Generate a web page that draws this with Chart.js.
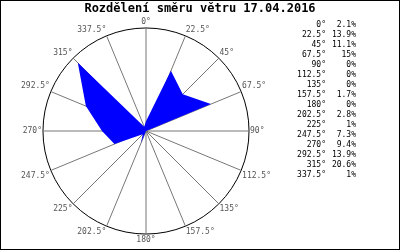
<!DOCTYPE html>
<html>
<head>
<meta charset="utf-8">
<script src="https://cdn.jsdelivr.net/npm/chart.js@4/dist/chart.umd.min.js"></script>
<style>
  html, body { margin: 0; padding: 0; background: #fff; }
  #wrap { width: 400px; height: 250px; position: relative; }
</style>
</head>
<body>
<div id="wrap"><canvas id="windChart" width="400" height="250"></canvas></div>
<script>
const directions = ["0°", "22.5°", "45°", "67.5°", "90°", "112.5°", "135°", "157.5°",
  "180°", "202.5°", "225°", "247.5°", "270°", "292.5°", "315°", "337.5°"];
const shares = [2.1, 13.9, 11.1, 15, 0, 0, 0, 1.7, 0, 2.8, 1, 7.3, 9.4, 13.9, 20.6, 1];
const shareLabels = ["2.1%", "13.9%", "11.1%", "15%", "0%", "0%", "0%", "1.7%",
  "0%", "2.8%", "1%", "7.3%", "9.4%", "13.9%", "20.6%", "1%"];
const titleText = "Rozdělení směru větru 17.04.2016";

// nadpis, seznam hodnot vpravo + rámeček
const sideList = {
  id: "sideList",
  afterDraw(chart) {
    const c = chart.ctx;
    c.save();
    c.fillStyle = "#000";
    c.textBaseline = "middle";
    c.textAlign = "center";
    c.font = "bold 12px 'DejaVu Sans Mono'";
    c.fillText(titleText, 200, 9);
    c.font = "8px 'DejaVu Sans Mono'";
    directions.forEach((d, i) => {
      const y = 25 + i * 10;
      c.textAlign = "right";
      c.fillText(d, 326, y);
      c.fillText(shareLabels[i], 356, y);
    });
    c.strokeStyle = "#000";
    c.lineWidth = 1;
    c.strokeRect(0.5, 0.5, 399, 249);
    c.restore();
  }
};

const ctx = document.getElementById("windChart").getContext("2d");
new Chart(ctx, {
  type: "radar",
  data: {
    labels: directions,
    datasets: [{
      data: shares,
      backgroundColor: "#0000ff",
      borderWidth: 0,
      pointRadius: 0,
      fill: true
    }]
  },
  options: {
    animation: false,
    responsive: false,
    layout: { padding: { left: 21, right: 128, top: 17, bottom: 3 } },
    plugins: {
      legend: { display: false },
      tooltip: { enabled: false },
      title: { display: false }
    },
    scales: {
      r: {
        min: 0,
        max: 22,
        ticks: { display: false, stepSize: 22 },
        grid: { color: "#000", lineWidth: 1, circular: true },
        angleLines: { color: "#777", lineWidth: 1 },
        pointLabels: {
          color: "#555",
          font: { family: "'DejaVu Sans Mono'", size: 8 },
          padding: 1
        }
      }
    }
  },
  plugins: [sideList]
});
</script>
</body>
</html>
